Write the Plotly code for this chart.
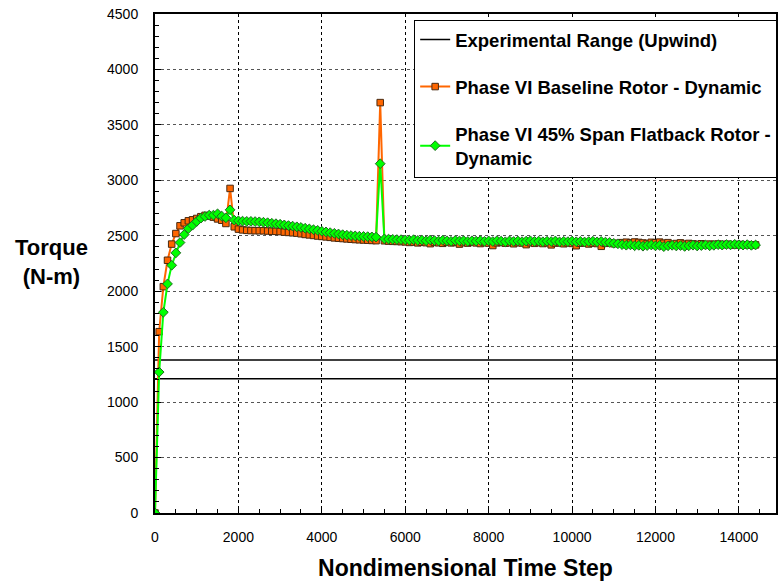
import plotly.graph_objects as go

# Time steps (x) shared by both CFD series
time_steps = list(range(0, 14500, 100))

baseline_torque = [
    0, 1635, 2041, 2279, 2425, 2520, 2590, 2617, 2635, 2644,
    2656, 2672, 2684, 2678, 2668, 2652, 2640, 2611, 2927, 2581,
    2560, 2553, 2549, 2547, 2546, 2546, 2545, 2543, 2541, 2540,
    2538, 2533, 2530, 2527, 2524, 2518, 2512, 2508, 2503, 2498,
    2494, 2490, 2486, 2481, 2478, 2475, 2472, 2469, 2466, 2464,
    2462, 2460, 2458, 2456, 3701, 2455, 2452, 2450, 2449, 2447,
    2445, 2440, 2443, 2436, 2441, 2438, 2429, 2440, 2437, 2432,
    2442, 2436, 2440, 2425, 2438, 2434, 2441, 2436, 2430, 2439,
    2434, 2412, 2436, 2440, 2433, 2437, 2428, 2438, 2435, 2420,
    2437, 2432, 2439, 2430, 2436, 2418, 2434, 2438, 2428, 2436,
    2431, 2410, 2433, 2437, 2426, 2434, 2430, 2405, 2432, 2436,
    2428, 2433, 2438, 2442, 2436, 2444, 2440, 2435, 2430, 2441,
    2437, 2443, 2433, 2438, 2422, 2430, 2436, 2425, 2431, 2427,
    2422, 2428, 2418, 2425, 2421, 2426, 2419, 2424, 2420, 2416,
    2422, 2418, 2420, 2415, 2418,
]

flatback_torque = [
    0, 1271, 1810, 2066, 2234, 2346, 2439, 2511, 2565, 2595,
    2629, 2659, 2674, 2686, 2686, 2698, 2677, 2662, 2734, 2641,
    2635, 2632, 2630, 2630, 2628, 2626, 2622, 2618, 2613, 2609,
    2604, 2598, 2592, 2587, 2581, 2575, 2568, 2562, 2555, 2549,
    2541, 2535, 2528, 2522, 2516, 2510, 2505, 2502, 2499, 2496,
    2494, 2492, 2490, 2488, 3150, 2472, 2470, 2468, 2466, 2465,
    2463, 2460, 2465, 2458, 2461, 2455, 2462, 2457, 2452, 2460,
    2455, 2450, 2458, 2453, 2456, 2449, 2455, 2452, 2457, 2450,
    2454, 2448, 2456, 2452, 2446, 2454, 2449, 2453, 2447, 2452,
    2455, 2449, 2452, 2446, 2451, 2448, 2453, 2445, 2450, 2447,
    2452, 2446, 2449, 2444, 2448, 2451, 2445, 2449, 2443, 2440,
    2432, 2428, 2420, 2415, 2418, 2410, 2414, 2406, 2412, 2417,
    2409, 2413, 2402, 2410, 2414, 2408, 2412, 2404, 2410, 2415,
    2408, 2412, 2417, 2410, 2414, 2420, 2416, 2421, 2418, 2423,
    2419, 2416, 2420, 2414, 2417,
]

# Experimental range (upwind) bounds
exp_range_low = 1210
exp_range_high = 1380
x_max = 14890

x_tick_values = [0, 2000, 4000, 6000, 8000, 10000, 12000, 14000]

FONT = "Liberation Sans, Arial, sans-serif"

fig = go.Figure()

fig.add_trace(go.Scatter(
    x=[0, x_max, None, 0, x_max],
    y=[exp_range_high, exp_range_high, None, exp_range_low, exp_range_low],
    mode="lines",
    line=dict(color="black", width=1.6),
    name="<b>Experimental Range (Upwind)</b>",
    legendgroup="a",
))

fig.add_trace(go.Scatter(
    x=time_steps, y=baseline_torque,
    mode="lines+markers",
    line=dict(color="#FF6600", width=2),
    marker=dict(symbol="square", size=6.5, color="#FF6600",
                line=dict(color="#4a2a10", width=1)),
    name="<b>Phase VI Baseline Rotor - Dynamic</b>",
    legendgroup="b",
))

fig.add_trace(go.Scatter(
    x=time_steps, y=flatback_torque,
    mode="lines+markers",
    line=dict(color="#00FF00", width=2),
    marker=dict(symbol="diamond", size=7.5, color="#00FF00",
                line=dict(color="#1f6b1f", width=1)),
    name="<b>Phase VI 45% Span Flatback Rotor -<br>Dynamic</b>",
    legendgroup="c",
))

fig.update_layout(
    width=778, height=583,
    margin=dict(l=155, r=0, t=14, b=70),
    paper_bgcolor="white",
    plot_bgcolor="white",
    font=dict(family=FONT, color="black", size=14),
    showlegend=True,
    legend=dict(
        x=(415 - 155) / 623, y=(513 - 20) / 499, xanchor="left", yanchor="top",
        bgcolor="white", bordercolor="black", borderwidth=1,
        font=dict(family=FONT, size=18.5, color="black"),
        traceorder="grouped", tracegroupgap=20,
        itemwidth=30,
    ),
    xaxis=dict(
        range=[0, x_max],
        tickvals=x_tick_values,
        tickformat="d",
        ticks="inside", ticklen=6, tickcolor="black",
        minor=dict(dtick=500, ticks="inside", ticklen=4, tickcolor="black", showgrid=False),
        showgrid=True, gridcolor="black", griddash="3px,3px", gridwidth=1,
        showline=True, linecolor="black", linewidth=2, mirror=True,
        zeroline=False,
        tickfont=dict(size=14, family=FONT),
        ticklabelstandoff=10,
        title=dict(text="<b>Nondimensional Time Step</b>",
                   font=dict(size=23, family=FONT), standoff=16),
    ),
    yaxis=dict(
        range=[0, 4500],
        dtick=500,
        ticks="inside", ticklen=6, tickcolor="black",
        minor=dict(dtick=100, ticks="inside", ticklen=4, tickcolor="black", showgrid=False),
        showgrid=True, gridcolor="#555555", griddash="3px,3px", gridwidth=1,
        showline=True, linecolor="black", linewidth=2, mirror=True,
        zeroline=False,
        tickfont=dict(size=14, family=FONT),
        ticklabelstandoff=12,
    ),
    annotations=[dict(
        text="<b>Torque<br>(N-m)</b>",
        x=(51 - 155) / 623, y=(513 - 262) / 499,
        xref="paper", yref="paper", xanchor="center", yanchor="middle",
        showarrow=False, font=dict(size=22, family=FONT),
    )],
)

fig.write_html("out.html")
